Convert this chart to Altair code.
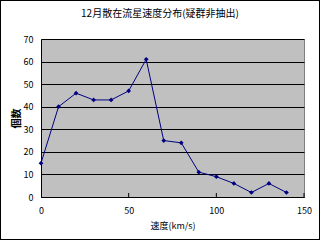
import altair as alt
import pandas as pd

title_text = ["12月散在流星速度分布(疑群非抽出)"]
speeds = [0, 10, 20, 30, 40, 50, 60, 70, 80, 90, 100, 110, 120, 130, 140]
counts = [15, 40, 46, 43, 43, 47, 61, 25, 24, 11, 9, 6, 2, 6, 2]
xticks = [0, 50, 100, 150]
yticks = [0, 10, 20, 30, 40, 50, 60, 70]

df = pd.DataFrame({"speed": speeds, "count": counts})
tick_df = pd.DataFrame({"t": xticks[1:]})
title_df = pd.DataFrame({"label": title_text})

W, H = 263, 158
FONT = "Noto Sans CJK JP"

xscale = alt.Scale(domain=[0, 150], nice=False)
yscale = alt.Scale(domain=[0, 70], nice=False)

xaxis = alt.Axis(values=xticks, title="速度(km/s)", grid=False, tickSize=0,
                 labelPadding=9, titlePadding=6, domainColor="black",
                 labelFont=FONT, titleFont=FONT, labelFontSize=9,
                 titleFontSize=9, titleFontWeight="normal", labelColor="black",
                 titleColor="black", labelOverlap=False, labelFlush=False,
                 labelBound=False)
yaxis = alt.Axis(values=yticks, title="個数", grid=True, gridColor="black",
                 gridWidth=1, tickSize=0, labelPadding=8, titlePadding=2,
                 domainColor="black", labelFont=FONT, titleFont=FONT,
                 labelFontSize=9, titleFontSize=10, titleFontWeight="bold",
                 labelColor="black", titleColor="black", labelOverlap=False,
                 labelFlush=False, labelBound=False)

base = alt.Chart(df)

line = base.mark_line(color="#000080", strokeWidth=1).encode(
    x=alt.X("speed:Q", scale=xscale, axis=xaxis),
    y=alt.Y("count:Q", scale=yscale, axis=yaxis),
)

points = base.mark_point(shape="diamond", filled=True, color="#000080", size=22, opacity=1).encode(
    x=alt.X("speed:Q", scale=xscale, axis=xaxis),
    y=alt.Y("count:Q", scale=yscale, axis=yaxis),
)

ticks = alt.Chart(tick_df).mark_rule(color="black", strokeWidth=1).encode(
    x=alt.X("t:Q", scale=xscale, axis=xaxis),
    y=alt.value(H - 4),
    y2=alt.value(H),
)

border = alt.Chart(tick_df).mark_rect(fill=None, stroke="black", strokeWidth=1, clip=False).encode(
    x=alt.value(-40.5), x2=alt.value(278.5), y=alt.value(-38.5), y2=alt.value(200.5)
)

title = alt.Chart(title_df).mark_text(font=FONT, fontSize=10, color="black",
                                      align="center", baseline="middle").encode(
    text="label:N", x=alt.value(119), y=alt.value(-25)
)

chart = alt.layer(line, points, ticks, border, title).properties(
    width=W, height=H,
    autosize=alt.AutoSizeParams(type="none"),
    padding={"left": 41, "top": 39, "right": 16, "bottom": 43},
    background="white",
).configure_view(fill="#C0C0C0", stroke="#808080", strokeWidth=1)

chart.save("out.html", embed_options={"renderer": "svg", "actions": False})
